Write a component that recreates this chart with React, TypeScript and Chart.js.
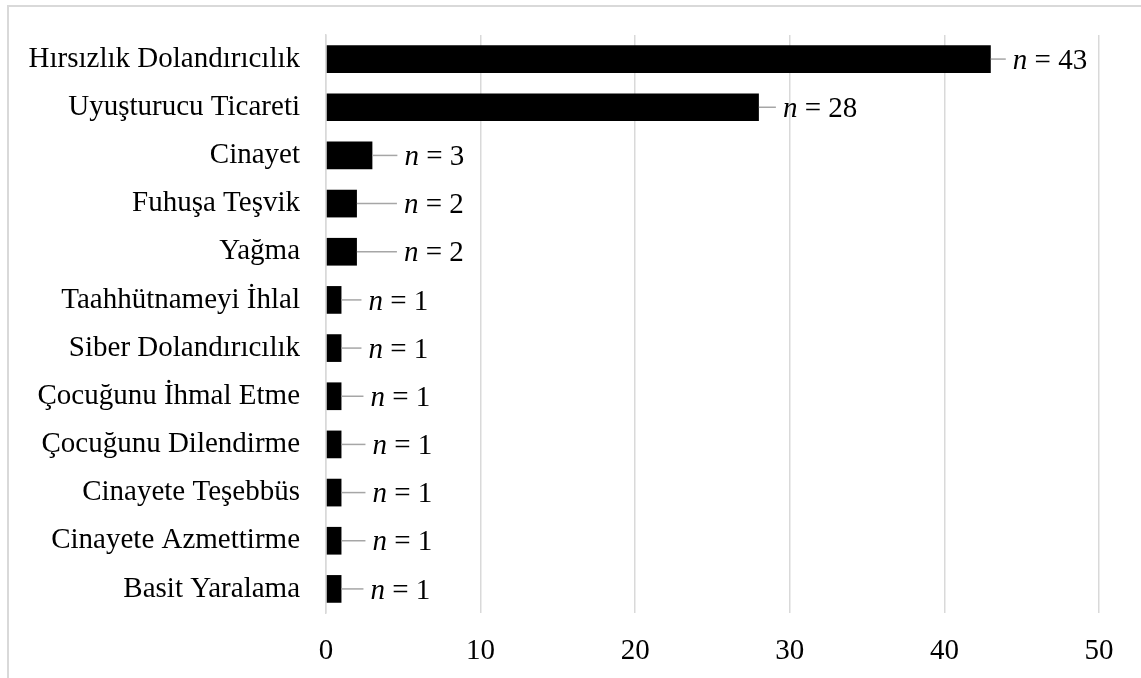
import React, { useEffect, useRef } from "react";
import { Chart, registerables } from "chart.js";

Chart.register(...registerables);

const categories = [
  "Hırsızlık Dolandırıcılık",
  "Uyuşturucu Ticareti",
  "Cinayet",
  "Fuhuşa Teşvik",
  "Yağma",
  "Taahhütnameyi İhlal",
  "Siber Dolandırıcılık",
  "Çocuğunu İhmal Etme",
  "Çocuğunu Dilendirme",
  "Cinayete Teşebbüs",
  "Cinayete Azmettirme",
  "Basit Yaralama",
];
const counts = [43, 28, 3, 2, 2, 1, 1, 1, 1, 1, 1, 1];
const xTicks = [0, 10, 20, 30, 40, 50];

const FONT_FAMILY = '"Liberation Serif", "Times New Roman", serif';
const FONT_SIZE = 29;

const calloutPlugin = {
  id: "callouts",
  afterDatasetsDraw(chart: any, _args: any, opts: any) {
    const ctx = chart.ctx as CanvasRenderingContext2D;
    const meta = chart.getDatasetMeta(0);
    const lens: number[] = opts.lineLengths || [];
    meta.data.forEach((bar: any, i: number) => {
      const x0 = bar.x;
      const y = bar.y;
      const len = lens[i] ?? 16;
      ctx.save();
      ctx.strokeStyle = "#a6a6a6";
      ctx.lineWidth = 1.5;
      ctx.beginPath();
      ctx.moveTo(x0, y);
      ctx.lineTo(x0 + len, y);
      ctx.stroke();
      let tx = x0 + len + 7;
      const ty = y + (opts.textDy || 0);
      ctx.fillStyle = "#000";
      ctx.textBaseline = "middle";
      ctx.textAlign = "left";
      ctx.font = `italic ${FONT_SIZE}px ${FONT_FAMILY}`;
      ctx.fillText("n", tx, ty);
      tx += ctx.measureText("n").width;
      ctx.font = `${FONT_SIZE}px ${FONT_FAMILY}`;
      ctx.fillText(" = " + counts[i], tx, ty);
      ctx.restore();
    });
  },
};

export default function App() {
  const canvasRef = useRef<HTMLCanvasElement | null>(null);

  useEffect(() => {
    if (!canvasRef.current) return;
    const font = { family: FONT_FAMILY, size: FONT_SIZE };
    const chart = new Chart(canvasRef.current, {
      type: "bar",
      data: {
        labels: categories,
        datasets: [
          {
            data: counts,
            backgroundColor: "#000000",
            borderWidth: 0,
            barPercentage: 0.575,
            categoryPercentage: 1,
          },
        ],
      },
      options: {
        indexAxis: "y",
        responsive: false,
        animation: false,
        devicePixelRatio: 1,
        layout: { padding: { top: 35, right: 42, left: 0, bottom: 0 } },
        plugins: {
          legend: { display: false },
          tooltip: { enabled: false },
          callouts: {
            lineLengths: [15, 17, 25, 40, 40, 20, 20, 22, 24, 24, 24, 22],
            textDy: 2,
          },
        } as any,
        scales: {
          x: {
            min: 0,
            max: 50,
            afterBuildTicks: (s: any) => {
              s.ticks = xTicks.map((v) => ({ value: v }));
            },
            afterFit: (s: any) => {
              s.height = 65;
            },
            ticks: { padding: 21, color: "#000", font },
            grid: { color: "#d9d9d9", lineWidth: 1.5, drawTicks: false },
            border: { display: false },
          },
          y: {
            afterFit: (s: any) => {
              s.width = 326;
              s.paddingTop = 0;
              s.paddingBottom = 0;
            },
            ticks: { padding: 26, color: "#000", font },
            grid: { display: false, drawTicks: false },
            border: { display: true, color: "#d9d9d9", width: 1.5 },
          },
        },
      },
      plugins: [calloutPlugin],
    });
    return () => chart.destroy();
  }, []);

  return (
    <div
      style={{
        position: "fixed",
        top: 0,
        left: 0,
        width: 1141,
        height: 678,
        overflow: "hidden",
        background: "#fff",
      }}
    >
      <div
        style={{
          position: "absolute",
          left: 7,
          top: 5,
          width: 1300,
          height: 900,
          border: "2px solid #d9d9d9",
          boxSizing: "border-box",
        }}
      />
      <canvas
        ref={canvasRef}
        width={1141}
        height={678}
        style={{ position: "absolute", top: 0, left: 0, width: 1141, height: 678 }}
      />
    </div>
  );
}
